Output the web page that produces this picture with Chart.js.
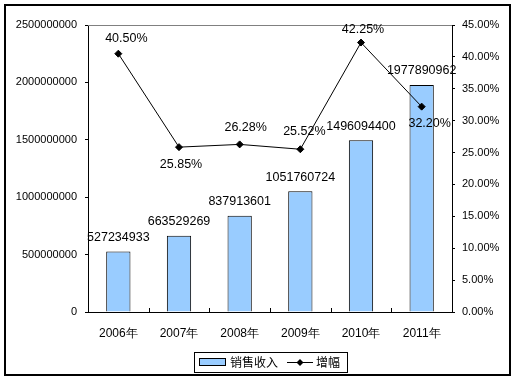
<!DOCTYPE html>
<html><head><meta charset="utf-8">
<script src="https://cdn.jsdelivr.net/npm/chart.js@4/dist/chart.umd.min.js"></script>
<style>html,body{margin:0;padding:0;background:#fff;}#wrap{width:518px;height:382px;}</style>
</head><body><div id="wrap"><canvas id="c" width="518" height="382"></canvas></div>
<script>
const categories = ['2006年','2007年','2008年','2009年','2010年','2011年'];
const salesValues = [527234933, 663529269, 837913601, 1051760724, 1496094400, 1977890962];
const growthValues = [40.50, 25.85, 26.28, 25.52, 42.25, 32.20];
const salesName = '销售收入';
const growthName = '增幅';

// label placement (style only)
const growthLabelDX = [8, 2, 6, 4, 2, 8];
const growthLabelDY = [-15, 17, -17, -18, -13, 17];

const FONT = '"Liberation Sans", Arial, sans-serif';
const CJK = '"Noto Sans CJK SC", "Liberation Sans", sans-serif';

const decor = {
  id: 'decor',
  afterDatasetsDraw(chart) {
    const ctx = chart.ctx, a = chart.chartArea;
    const x = chart.scales.x;
    ctx.save();
    ctx.strokeStyle = '#808080'; ctx.lineWidth = 1;
    ctx.beginPath(); ctx.moveTo(a.left, a.top + 0.5); ctx.lineTo(a.right, a.top + 0.5); ctx.stroke();
    ctx.strokeStyle = '#000';
    for (let i = 1; i < categories.length; i++) {
      const px = Math.round((x.getPixelForValue(i - 1) + x.getPixelForValue(i)) / 2) + 0.5;
      ctx.beginPath(); ctx.moveTo(px, a.bottom); ctx.lineTo(px, a.bottom - 4); ctx.stroke();
    }
    ctx.fillStyle = '#000'; ctx.font = '12.5px ' + FONT;
    ctx.textAlign = 'center'; ctx.textBaseline = 'middle';
    chart.getDatasetMeta(0).data.forEach((el, i) => {
      ctx.fillText(String(salesValues[i]), el.x, el.y - 14);
    });
    chart.getDatasetMeta(1).data.forEach((el, i) => {
      ctx.fillText(growthValues[i].toFixed(2) + '%', el.x + growthLabelDX[i], el.y + growthLabelDY[i]);
    });
    ctx.lineWidth = 2; ctx.strokeStyle = '#000';
    ctx.strokeRect(5, 5, 505, 370);
    ctx.lineWidth = 1;
    ctx.strokeRect(194.5, 352.5, 153, 20);
    ctx.fillStyle = '#99CCFF';
    ctx.fillRect(199.5, 358.5, 26, 7);
    ctx.strokeRect(199.5, 358.5, 26, 7);
    ctx.fillStyle = '#000';
    ctx.font = '12px ' + CJK; ctx.textAlign = 'left';
    ctx.fillText(salesName, 230, 362.5);
    ctx.beginPath(); ctx.moveTo(287, 362.5); ctx.lineTo(313, 362.5); ctx.stroke();
    ctx.beginPath(); ctx.moveTo(300, 359); ctx.lineTo(303.5, 362.5); ctx.lineTo(300, 366); ctx.lineTo(296.5, 362.5); ctx.closePath(); ctx.fill();
    ctx.fillText(growthName, 316, 362.5);
    ctx.restore();
  }
};

new Chart(document.getElementById('c'), {
  type: 'bar',
  data: {
    labels: categories,
    datasets: [
      { type: 'bar', label: salesName, data: salesValues, yAxisID: 'y', order: 2,
        backgroundColor: '#99CCFF', borderColor: '#000', borderWidth: 1,
        barPercentage: 0.4, categoryPercentage: 1 },
      { type: 'line', label: growthName, data: growthValues, yAxisID: 'y2', order: 1,
        borderColor: '#000', borderWidth: 1, backgroundColor: '#000',
        pointStyle: 'rectRot', pointRadius: 3.5, pointBackgroundColor: '#000', pointBorderColor: '#000',
        tension: 0, clip: false }
    ]
  },
  options: {
    responsive: false, animation: false, devicePixelRatio: 1,
    layout: { padding: { left: 0, right: 0, top: 25, bottom: 40 } },
    plugins: { legend: { display: false }, tooltip: { enabled: false } },
    scales: {
      x: {
        grid: { display: false, drawTicks: false },
        border: { display: true, color: '#000', width: 1 },
        ticks: { font: { family: FONT, size: 12 }, color: '#000', padding: 14, maxRotation: 0 },
        afterFit(s) { s.height = 30; }
      },
      y: {
        position: 'left', min: 0, max: 2500000000,
        grid: { drawOnChartArea: false, drawTicks: true, tickLength: 3, color: '#000' },
        border: { display: true, color: '#000', width: 1 },
        ticks: { stepSize: 500000000, font: { family: FONT, size: 11 }, color: '#000', padding: 8,
                 callback: v => String(v) },
        afterFit(s) { s.width = 88; }
      },
      y2: {
        position: 'right', min: 0, max: 45,
        grid: { drawOnChartArea: false, drawTicks: true, tickLength: 3, color: '#000' },
        border: { display: true, color: '#000', width: 1 },
        ticks: { stepSize: 5, font: { family: FONT, size: 11 }, color: '#000', padding: 7,
                 callback: v => v.toFixed(2) + '%' },
        afterFit(s) { s.width = 66; }
      }
    }
  },
  plugins: [decor]
});
</script></body></html>
